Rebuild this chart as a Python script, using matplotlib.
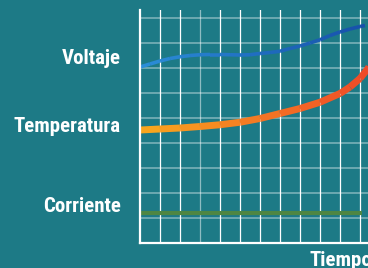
import numpy as np
import matplotlib
matplotlib.use('Agg')
import matplotlib.pyplot as plt
from matplotlib import font_manager as fm
from matplotlib.collections import LineCollection
from matplotlib.colors import LinearSegmentedColormap

# series (x in time steps, y in grid units)
volt_x = [0, 0.5, 1, 1.5, 2, 2.5, 3, 3.5, 4, 4.5, 5, 5.5, 6, 6.5, 7, 7.5,
          8, 8.5, 9, 9.5, 10, 10.5, 11, 11.25]
volt_y = [7.02, 7.14, 7.26, 7.36, 7.43, 7.48, 7.51, 7.52, 7.52, 7.51, 7.50,
          7.51, 7.56, 7.60, 7.65, 7.76, 7.86, 7.98, 8.11, 8.28, 8.42, 8.54,
          8.64, 8.68]

temp_x = [0, 1, 2, 3, 4, 5, 6, 7, 8, 9, 10, 10.5, 11, 11.4, 11.6]
temp_y = [4.50, 4.54, 4.58, 4.64, 4.71, 4.81, 4.96, 5.16, 5.36, 5.61, 5.96,
          6.22, 6.56, 6.96, 7.25]

corr_x = [0, 11.1]
corr_y = [1.2, 1.2]

labels = ['Voltaje', 'Temperatura', 'Corriente']
label_y = [7.36, 4.64, 1.44]
xlabel = 'Tiempo'

bg = '#1d7a86'


def pick_font():
    # look for a bold condensed face, the reference uses a narrow grotesque
    fonts = fm.fontManager.ttflist
    heavy = ('bold', 'heavy', 'black', 700, 800, 900)
    for name in ['Roboto Condensed', 'Liberation Sans Narrow',
                 'Open Sans Condensed', 'Noto Sans Condensed']:
        cands = [f for f in fonts if f.name == name and f.style == 'normal'
                 and f.weight in heavy]
        if cands:
            # heaviest one first
            cands.sort(key=lambda f: -fm.weight_dict.get(f.weight, f.weight)
                       if isinstance(f.weight, str) else -f.weight)
            return fm.FontProperties(fname=cands[0].fname)
    for f in fonts:
        w = f.weight if isinstance(f.weight, int) else 700 if 'bold' in str(f.weight) else 400
        if f.stretch in ('condensed', 'semi-condensed', 'extra-condensed', 75, 62.5, 87.5) \
                and w >= 700 and f.style == 'normal':
            return fm.FontProperties(fname=f.fname)
    return fm.FontProperties(family='DejaVu Sans', weight='bold', stretch='condensed')


def gradient_line(ax, x, y, c0, c1, lw):
    x = np.asarray(x, float)
    y = np.asarray(y, float)
    pts = np.column_stack([x, y]).reshape(-1, 1, 2)
    segs = np.concatenate([pts[:-1], pts[1:]], axis=1)
    cmap = LinearSegmentedColormap.from_list('g', [c0, c1])
    t = (x[:-1] + x[1:]) / 2
    lc = LineCollection(segs, colors=cmap(t / x.max()), linewidths=lw,
                        capstyle='butt', joinstyle='round')
    ax.add_collection(lc)


fp = pick_font()
fp.set_size(15)

fig = plt.figure(figsize=(3.68, 2.68), dpi=100, facecolor=bg)
ax = fig.add_axes([140 / 368, 25.5 / 268, 228 / 368, 232.5 / 268])
ax.set_facecolor(bg)
ax.set_xlim(0, 11.4)
ax.set_ylim(0, 9.3)

# grid
for gy in range(1, 10):
    ax.axhline(gy, color='white', alpha=0.45, lw=1.1, zorder=1)
for gx in range(1, 12):
    ax.axvline(gx, color='white', alpha=0.5 if gx == 3 else 1.0, lw=0.9, zorder=1)

gradient_line(ax, volt_x, volt_y, '#2b8ed8', '#1650aa', 2.6)
gradient_line(ax, temp_x, temp_y, '#f9a91e', '#ef4828', 5.0)
gradient_line(ax, corr_x, corr_y, '#66a84a', '#37643c', 3.0)

for s in ['top', 'right']:
    ax.spines[s].set_visible(False)
for s in ['left', 'bottom']:
    ax.spines[s].set_color('white')
    ax.spines[s].set_linewidth(1.6)
ax.set_xticks([])
ax.set_yticks([])

for lab, ly in zip(labels, label_y):
    ax.text(-0.95, ly, lab, ha='right', va='center', color='white',
            fontproperties=fp, clip_on=False)
ax.text(8.5, -0.7, xlabel, ha='left', va='center', color='white',
        fontproperties=fp, clip_on=False)

fig.savefig('out.png', dpi=100, facecolor=bg)
